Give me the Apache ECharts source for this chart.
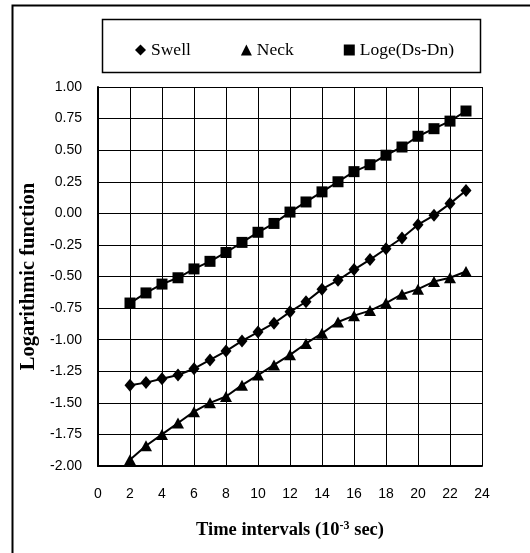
<!DOCTYPE html>
<html>
<head>
<meta charset="utf-8">
<script src="https://cdn.jsdelivr.net/npm/echarts@6/dist/echarts.min.js"></script>
<style>html,body{margin:0;padding:0;background:#fff;}#c{width:530px;height:553px;}</style>
</head>
<body>
<div id="c"></div>
<script>
var timeX = [2,3,4,5,6,7,8,9,10,11,12,13,14,15,16,17,18,19,20,21,22,23];
var swell = [-1.36,-1.34,-1.31,-1.28,-1.23,-1.16,-1.09,-1.01,-0.94,-0.87,-0.78,-0.70,-0.60,-0.53,-0.445,-0.366,-0.28,-0.195,-0.09,-0.016,0.077,0.18];
var neck = [-1.95,-1.84,-1.75,-1.66,-1.57,-1.50,-1.45,-1.36,-1.28,-1.20,-1.12,-1.03,-0.95,-0.86,-0.81,-0.77,-0.71,-0.64,-0.60,-0.54,-0.51,-0.46];
var logeDsDn = [-0.71,-0.63,-0.56,-0.51,-0.44,-0.38,-0.31,-0.23,-0.15,-0.08,0.01,0.09,0.17,0.25,0.33,0.385,0.46,0.525,0.61,0.67,0.73,0.81];
var seriesNames = ['Swell','Neck','Loge(Ds-Dn)'];
var yTickLabels = ['-2.00','-1.75','-1.50','-1.25','-1.00','-0.75','-0.50','-0.25','0.00','0.25','0.50','0.75','1.00'];

function pairs(ys){ return timeX.map(function(x,i){ return [x, ys[i]]; }); }

var chart = echarts.init(document.getElementById('c'), null, {renderer:'canvas'});
var serif = '"Liberation Serif","Times New Roman",serif';
var sans = '"Liberation Sans",Arial,sans-serif';
function mkSeries(name, data, symbol, size){
  return {
    name: name, type: 'line', data: pairs(data), symbol: symbol, symbolSize: size,
    lineStyle: {color:'#000', width:2}, itemStyle: {color:'#000'},
    showSymbol: true, animation: false, z: 3
  };
}
chart.setOption({
  animation: false,
  backgroundColor: '#fff',
  graphic: [
    {type:'polyline', shape:{points:[[12.5,560],[12.5,5.5],[540,5.5]]}, style:{stroke:'#000', lineWidth:2, fill:null}, silent:true},
    {type:'rect', shape:{x:102.5,y:19.5,width:378,height:53}, style:{stroke:'#000', lineWidth:1.5, fill:'#fff'}, z:-1, silent:true}
  ],
  legend: {
    left: 130, top: 36,
    itemWidth: 11, itemHeight: 11, itemGap: 50,
    textStyle: {fontFamily: serif, fontSize: 17.5, color:'#000'},
    data: [
      {name: seriesNames[0], icon: 'diamond'},
      {name: seriesNames[1], icon: 'triangle'},
      {name: seriesNames[2], icon: 'rect'}
    ]
  },
  grid: {left: 98, right: 48, top: 87, bottom: 87, containLabel: false},
  xAxis: {
    type: 'value', min: 0, max: 24, interval: 2,
    name: 'Time intervals (10{sup|-3} sec)',
    nameLocation: 'middle', nameGap: 54,
    nameTextStyle: {fontFamily: serif, fontSize: 18.5, fontWeight:'bold', color:'#000',
      rich: {sup: {fontFamily: serif, fontSize: 12, fontWeight:'bold', color:'#000', verticalAlign:'top', padding:[0,0,8,0]}}},
    axisLine: {show:true, onZero:false, lineStyle:{color:'#000', width:2}},
    axisTick: {show:true, inside:true, length:4, lineStyle:{color:'#000'}},
    axisLabel: {fontFamily: sans, fontSize: 14, color:'#000', margin: 21},
    splitLine: {show:true, lineStyle:{color:'#000', width:1}}
  },
  yAxis: {
    type: 'value', min: -2, max: 1, interval: 0.25,
    name: 'Logarithmic function',
    nameLocation: 'middle', nameGap: 54,
    nameTextStyle: {fontFamily: serif, fontSize: 20.5, fontWeight:'bold', color:'#000'},
    axisLine: {show:true, onZero:false, lineStyle:{color:'#000', width:2}},
    axisTick: {show:false},
    axisLabel: {fontFamily: sans, fontSize: 14, color:'#000', margin: 16,
      formatter: function(v){ var i = Math.round((v + 2) / 0.25); return yTickLabels[i]; }},
    splitLine: {show:true, lineStyle:{color:'#000', width:1}}
  },
  series: [
    mkSeries(seriesNames[0], swell, 'diamond', [11,13]),
    mkSeries(seriesNames[1], neck, 'triangle', [12,11]),
    mkSeries(seriesNames[2], logeDsDn, 'rect', 11)
  ]
});
</script>
</body>
</html>
